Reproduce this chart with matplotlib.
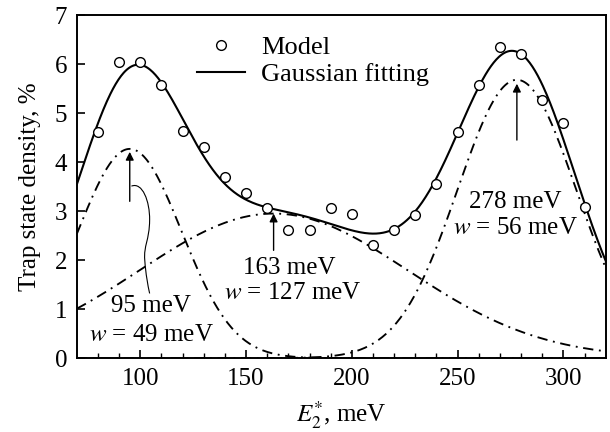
import numpy as np
import matplotlib
matplotlib.use("Agg")
import matplotlib.pyplot as plt
from matplotlib.path import Path
from matplotlib.patches import PathPatch

plt.rcParams['font.family'] = ['Liberation Serif', 'DejaVu Serif']
plt.rcParams['mathtext.fontset'] = 'stix'

# model points
E_model = [80, 90, 100, 110, 120, 130, 140, 150, 160, 170, 180, 190,
           200, 210, 220, 230, 240, 250, 260, 270, 280, 290, 300, 310]
dens_model = [4.62, 6.04, 6.04, 5.57, 4.63, 4.31, 3.70, 3.38, 3.07, 2.61, 2.61, 3.07,
              2.94, 2.31, 2.62, 2.92, 3.55, 4.62, 5.57, 6.35, 6.20, 5.26, 4.79, 3.08]

# gaussian components (center, width w, peak height)
peak_E = [95, 163, 278]
peak_w = [49, 127, 56]
peak_h = [4.27, 2.95, 5.68]

label_top = ["95 meV", "163 meV", "278 meV"]
label_bot = ["$w$ = 49 meV", "$w$ = 127 meV", "$w$ = 56 meV"]

x = np.linspace(70, 320, 600)
comps = [h * np.exp(-2 * (x - c) ** 2 / w ** 2) for c, w, h in zip(peak_E, peak_w, peak_h)]
total = np.sum(comps, axis=0)

fig = plt.figure(figsize=(6.1, 4.32), dpi=100)
ax = fig.add_axes([0.126, 0.171, 0.867, 0.794])

for c in comps:
    ax.plot(x, c, color='black', lw=1.35, linestyle=(0, (5.5, 3, 1, 3)))
ax.plot(x, total, color='black', lw=1.5, label='Gaussian fitting', zorder=3)
ax.plot(E_model, dens_model, 'o', mfc='white', mec='black', mew=1.0, ms=7,
        label='Model', zorder=4)

# arrows to the peaks
arrow_from = [3.2, 2.2, 4.45]
arrow_to = [4.21, 2.95, 5.6]
for c, y0, y1 in zip(peak_E, arrow_from, arrow_to):
    ax.annotate('', xy=(c, y1), xytext=(c, y0),
                arrowprops=dict(arrowstyle='-|>', color='black', lw=1.0,
                                mutation_scale=12, shrinkA=0, shrinkB=0))

# wavy leader line for the first peak
verts = [(95.8, 3.51), (101, 3.6), (104.5, 3.2), (104.4, 2.82),
         (104.3, 2.4), (101.5, 2.3), (102.1, 2.0),
         (102.6, 1.7), (103.5, 1.5), (104.4, 1.32)]
codes = [Path.MOVETO] + [Path.CURVE4] * 9
ax.add_patch(PathPatch(Path(verts, codes), fill=False, lw=0.8, color='black'))

top_pos = [(105.1, 1.07), (170.5, 1.83), (277.4, 3.19)]
bot_pos = [(105.4, 0.47), (171.9, 1.32), (277.4, 2.65)]
for (tx, ty), lab in zip(top_pos, label_top):
    ax.text(tx, ty, lab, ha='center', va='center', fontsize=18)
for (tx, ty), lab in zip(bot_pos, label_bot):
    ax.text(tx, ty, lab, ha='center', va='center', fontsize=18)

ax.set_xlim(70, 320)
ax.set_ylim(0, 7)
ax.set_xticks([100, 150, 200, 250, 300])
ax.set_xticks(np.arange(80, 320, 10), minor=True)
ax.set_yticks(range(0, 8))
ax.tick_params(direction='in', length=6, width=1.2, labelsize=18, pad=7,
               top=False, right=False)
ax.tick_params(which='minor', direction='in', length=3.5, width=1.0, top=False)
for s in ax.spines.values():
    s.set_linewidth(1.4)

ax.set_xlabel('$E_2^{*}$, meV', fontsize=18, labelpad=7)
ax.set_ylabel('Trap state density, %', fontsize=18, labelpad=10)

handles, labels = ax.get_legend_handles_labels()
ax.legend(handles[::-1], labels[::-1], loc='upper left', bbox_to_anchor=(0.208, 0.972),
          frameon=False, fontsize=19, handlelength=1.8, handletextpad=0.6,
          labelspacing=0.15, borderaxespad=0)

fig.savefig('out.png', dpi=100)
